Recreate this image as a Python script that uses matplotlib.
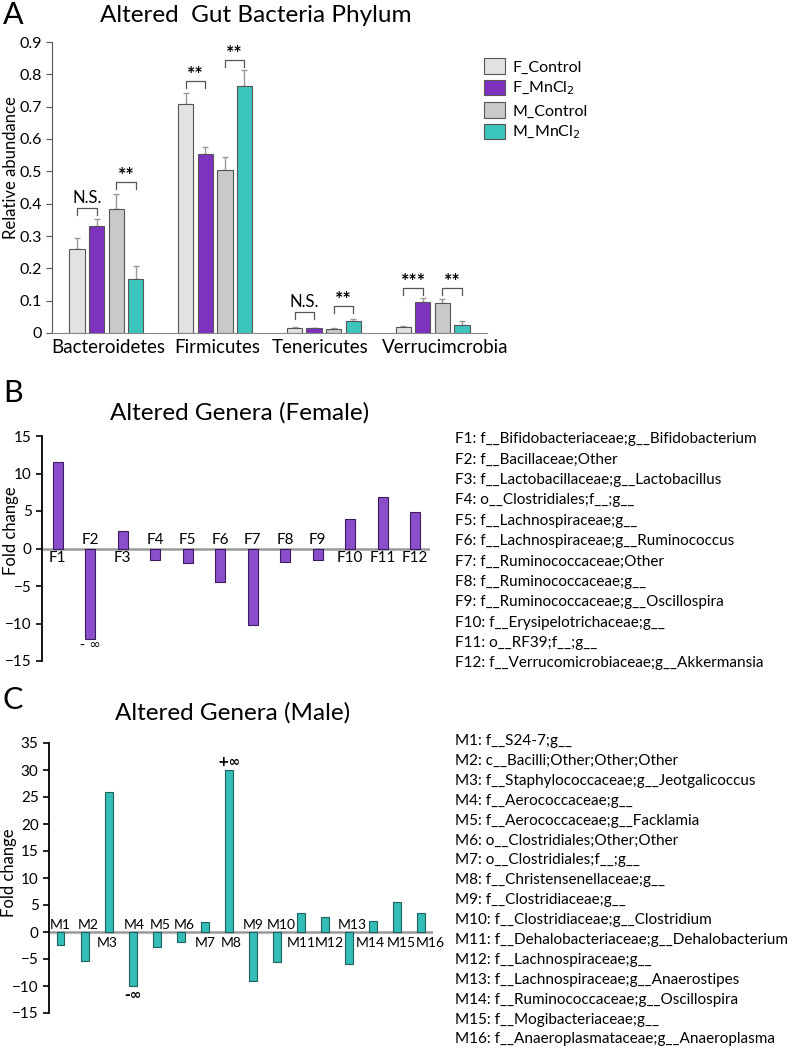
import numpy as np
import matplotlib
matplotlib.use('Agg')
import matplotlib.pyplot as plt

plt.rcParams['font.family'] = ['Lato', 'DejaVu Sans']

W, H = 791, 1050

# ---- data: panel A ----
phyla = ['Bacteroidetes', 'Firmicutes', 'Tenericutes', 'Verrucimcrobia']
groups = ['F_Control', 'F_MnCl$_2$', 'M_Control', 'M_MnCl$_2$']
abund = {
    'F_Control': [0.26, 0.707, 0.015, 0.020],
    'F_MnCl2':   [0.331, 0.555, 0.015, 0.095],
    'M_Control': [0.385, 0.505, 0.011, 0.094],
    'M_MnCl2':   [0.168, 0.763, 0.036, 0.025],
}
abund_err = {
    'F_Control': [0.035, 0.034, 0.004, 0.002],
    'F_MnCl2':   [0.021, 0.020, 0.002, 0.012],
    'M_Control': [0.045, 0.038, 0.003, 0.012],
    'M_MnCl2':   [0.040, 0.050, 0.006, 0.012],
}
# (phylum index, bar i, bar j, bracket height, label)
sig = [(0, 0, 1, 0.386, 'N.S.'), (0, 2, 3, 0.467, '**'),
       (1, 0, 1, 0.780, '**'), (1, 2, 3, 0.845, '**'),
       (2, 0, 1, 0.064, 'N.S.'), (2, 2, 3, 0.083, '**'),
       (3, 0, 1, 0.140, '***'), (3, 2, 3, 0.140, '**')]

# ---- data: panel B ----
f_labels = ['F%d' % i for i in range(1, 13)]
f_fold = [11.5, -12.0, 2.35, -1.55, -1.9, -4.5, -10.25, -1.8, -1.55, 4.0, 6.85, 4.9]
f_names = ['f__Bifidobacteriaceae;g__Bifidobacterium', 'f__Bacillaceae;Other',
           'f__Lactobacillaceae;g__Lactobacillus', 'o__Clostridiales;f__;g__',
           'f__Lachnospiraceae;g__', 'f__Lachnospiraceae;g__Ruminococcus',
           'f__Ruminococcaceae;Other', 'f__Ruminococcaceae;g__',
           'f__Ruminococcaceae;g__Oscillospira', 'f__Erysipelotrichaceae;g__',
           'o__RF39;f__;g__', 'f__Verrucomicrobiaceae;g__Akkermansia']

# ---- data: panel C ----
m_labels = ['M%d' % i for i in range(1, 17)]
m_fold = [-2.4, -5.3, 26.0, -10.0, -2.8, -1.9, 1.8, 30.0, -9.0, -5.5, 3.6, 2.8,
          -6.0, 2.1, 5.6, 3.6]
m_names = ['f__S24-7;g__', 'c__Bacilli;Other;Other;Other',
           'f__Staphylococcaceae;g__Jeotgalicoccus', 'f__Aerococcaceae;g__',
           'f__Aerococcaceae;g__Facklamia', 'o__Clostridiales;Other;Other',
           'o__Clostridiales;f__;g__', 'f__Christensenellaceae;g__',
           'f__Clostridiaceae;g__', 'f__Clostridiaceae;g__Clostridium',
           'f__Dehalobacteriaceae;g__Dehalobacterium', 'f__Lachnospiraceae;g__',
           'f__Lachnospiraceae;g__Anaerostipes', 'f__Ruminococcaceae;g__Oscillospira',
           'f__Mogibacteriaceae;g__', 'f__Anaeroplasmataceae;g__Anaeroplasma']

# small sideways nudges of the M labels so neighbours do not collide (layout only)
m_nudge = [0, 0.15, -0.05, 0.06, 0.17, 0.13, 0, 0.1, 0, 0.2, 0, 0.2, 0.12, -0.12,
           0.19, 0.37]

colors_a = ['#e2e2e2', '#7f31c0', '#c9c9c9', '#3cc5bd']
col_b = '#8a4ecb'
col_c = '#33bfb7'


def fx(x):
    return x / W


def fy(y):
    return 1 - y / H


def axes_px(l, t, r, b):
    return fig.add_axes([fx(l), fy(b), (r - l) / W, (b - t) / H])


fig = plt.figure(figsize=(W / 100, H / 100), dpi=100)

# ================= Panel A =================
ax = axes_px(52, 42, 487, 333)
x = np.arange(len(phyla))
offs = [-0.27, -0.09, 0.09, 0.27]
bw = 0.14
handles = []
for k, key in enumerate(abund):
    vals = abund[key]
    err = abund_err[key]
    b = ax.bar(x + offs[k], vals, bw, color=colors_a[k], edgecolor='#555555',
               linewidth=0.8, label=groups[k], zorder=2)
    ax.errorbar(x + offs[k], vals, yerr=[np.zeros(len(vals)), err], fmt='none',
                ecolor='#999999', elinewidth=1, capsize=2.5, capthick=1, zorder=1)
    handles.append(b)

for g, i, j, h, lab in sig:
    x1, x2 = g + offs[i], g + offs[j]
    ax.plot([x1, x1, x2, x2], [h - 0.022, h, h, h - 0.022], color='#555555', lw=0.9)
    if lab == 'N.S.':
        ax.text((x1 + x2) / 2, h + 0.006, lab, ha='center', va='bottom', fontsize=12)
    else:
        ax.text((x1 + x2) / 2, h - 0.006, lab, ha='center', va='bottom', fontsize=14,
                fontweight='bold')

ax.set_xlim(-0.5, 3.5)
ax.set_ylim(0, 0.9)
ax.set_yticks(np.arange(0, 0.91, 0.1))
ax.set_yticklabels(['0'] + ['%.1f' % v for v in np.arange(0.1, 0.91, 0.1)])
ax.set_xticks(x + np.array([0.02, 0.02, -0.03, 0.12]))
ax.set_xticklabels(phyla, fontsize=13.5)
ax.tick_params(axis='x', length=0, pad=4)
ax.tick_params(axis='y', labelsize=11.5, length=4, color='#555555', direction='out')
for s in ['top', 'right']:
    ax.spines[s].set_visible(False)
ax.spines['left'].set_color('#555555')
ax.spines['bottom'].set_color('#888888')
ax.set_ylabel('Relative abundance', fontsize=12)
ax.yaxis.set_label_coords(-0.077, 0.57)
ax.legend(handles=handles, loc='upper left', bbox_to_anchor=(fx(470), fy(44)),
          bbox_transform=fig.transFigure, frameon=False, fontsize=11.5,
          handlelength=1.3, handleheight=1.1, handletextpad=0.45, labelspacing=0.32)

fig.text(fx(3), fy(15), 'A', fontsize=22, va='center', ha='left')
fig.text(fx(256), fy(15), 'Altered  Gut Bacteria Phylum', fontsize=17.5, va='center',
         ha='center')

# ================= Panel B =================
ax = axes_px(42, 436, 430, 661)
xb = np.arange(1, len(f_fold) + 1)
ax.bar(xb, f_fold, 0.31, color=col_b, edgecolor='#3a1d5c', linewidth=0.8, zorder=2)
ax.axhline(0, color='#9a9a9a', lw=1.8, zorder=1)
for xi, v, lab in zip(xb, f_fold, f_labels):
    if v >= 0:
        ax.text(xi, -1.2, lab, ha='center', va='center', fontsize=11)
    else:
        ax.text(xi, 1.2, lab, ha='center', va='center', fontsize=11)
ax.text(xb[1], f_fold[1] - 0.9, '- \u221e', ha='center', va='center', fontsize=10,
        family=['DejaVu Sans'])
ax.set_xlim(0.52, 12.46)
ax.set_ylim(-15, 15)
ax.set_yticks([-15, -10, -5, 0, 5, 10, 15])
ax.set_xticks([])
ax.tick_params(axis='y', labelsize=11, length=4, width=1.2)
for s in ['top', 'right', 'bottom']:
    ax.spines[s].set_visible(False)
ax.spines['left'].set_linewidth(1.3)
ax.set_ylabel('Fold change', fontsize=12)
ax.yaxis.set_label_coords(-0.06, 0.58)

fig.text(fx(3), fy(393), 'B', fontsize=22, va='center', ha='left')
fig.text(fx(240), fy(413), 'Altered Genera (Female)', fontsize=17.5, va='center',
         ha='center')
for k, (lab, name) in enumerate(zip(f_labels, f_names)):
    fig.text(fx(455), fy(439 + k * 20.4), lab + ': ' + name, fontsize=11,
             va='center', ha='left')

# ================= Panel C =================
ax = axes_px(49, 743, 433, 1013)
xc = np.arange(1, len(m_fold) + 1)
ax.bar(xc, m_fold, 0.33, color=col_c, edgecolor='#1d5f5b', linewidth=0.8, zorder=2)
ax.axhline(0, color='#9a9a9a', lw=1.8, zorder=1)
for xi, v, lab, dx in zip(xc, m_fold, m_labels, m_nudge):
    if v >= 0:
        ax.text(xi + dx, -2.0, lab, ha='center', va='center', fontsize=10)
    else:
        ax.text(xi + dx, 1.3, lab, ha='center', va='center', fontsize=10)
ax.text(xc[3], m_fold[3] - 1.6, '-\u221e', ha='center', va='center', fontsize=10,
        fontweight='bold', family=['DejaVu Sans'])
ax.text(xc[7], m_fold[7] + 1.4, '+\u221e', ha='center', va='center', fontsize=10,
        fontweight='bold', family=['DejaVu Sans'])
ax.set_xlim(0.52, 16.5)
ax.set_ylim(-15, 35)
ax.set_yticks(np.arange(-15, 36, 5))
ax.set_xticks([])
ax.tick_params(axis='y', labelsize=11, length=4, width=1.2)
for s in ['top', 'right', 'bottom']:
    ax.spines[s].set_visible(False)
ax.spines['left'].set_linewidth(1.3)
ax.set_ylabel('Fold change', fontsize=12)
ax.yaxis.set_label_coords(-0.083, 0.52)

fig.text(fx(3), fy(700), 'C', fontsize=22, va='center', ha='left')
fig.text(fx(233), fy(713), 'Altered Genera (Male)', fontsize=17.5, va='center',
         ha='center')
for k, (lab, name) in enumerate(zip(m_labels, m_names)):
    fig.text(fx(455), fy(741 + k * 19.9), lab + ': ' + name, fontsize=11,
             va='center', ha='left')

fig.savefig('out.png', dpi=100)
